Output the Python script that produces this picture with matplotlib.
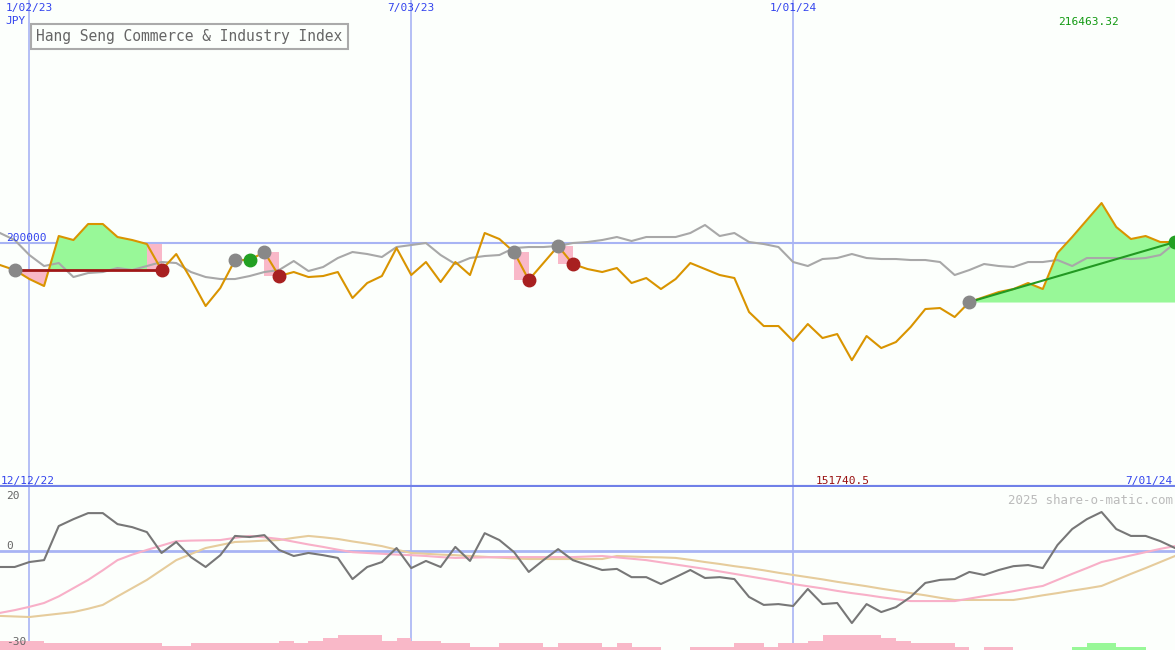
import matplotlib
matplotlib.use("Agg")
import matplotlib.pyplot as plt
import numpy as np
import pandas as pd

dates = pd.date_range("2022-12-19", periods=81, freq="7D")
price = [190936,188876,185168,182284,202884,201236,207828,207828,202472,201236,
         199588,188876,195468,185168,174044,181460,192996,192996,196292,186404,
         188052,185992,186404,188052,177340,183520,186404,197940,186816,192172,
         183932,192172,186816,204120,201648,196292,184756,191760,198764,191348,
         189288,188052,189700,183520,185580,181048,185168,191760,189288,186816,
         185580,171572,165804,165804,159624,166628,160860,162508,151740,161684,
         156740,159212,165392,172808,173220,169512,175692,177752,179812,181048,
         183520,181048,195880,202472,209476,216463,206592,201648,202884,200412,200412]
avg = [204120,201236,195056,190524,191760,185992,187640,188052,189700,188876,
       190524,192172,191760,188052,185992,185168,185168,186404,188052,188876,
       192584,188464,190112,193820,196292,195468,194232,198352,199176,200000,
       195056,191348,193820,194644,195056,197940,198352,198352,198764,200000,
       200412,201236,202472,200824,202472,202472,202472,204120,207416,202884,
       204120,200412,199588,198352,192172,190524,193408,193820,195468,193820,
       193408,193408,192996,192996,192172,186816,188876,191348,190524,190112,
       192172,192172,192996,190524,193820,193820,193820,193408,193820,195056,200000]
mom = [-5.8,-5.8,-4,-3.3,9.1,11.6,13.8,13.8,9.8,8.7,
       6.9,-0.7,3.3,-2.2,-5.8,-1.5,5.5,5.1,5.8,0.4,
       -1.8,-0.7,-1.5,-2.5,-10.2,-5.8,-4,1.1,-6.2,-3.6,
       -5.8,1.5,-3.6,6.5,4,-0.4,-7.6,-3.3,0.7,-3.3,
       -5.1,-6.9,-6.5,-9.5,-9.5,-12,-9.5,-6.9,-9.8,-9.5,
       -10.2,-16.7,-19.6,-19.3,-20,-13.8,-19.3,-18.9,-26.2,-19.3,
       -22.2,-20.4,-16.7,-11.6,-10.5,-10.2,-7.6,-8.7,-6.9,-5.5,
       -5.1,-6.2,2.2,8,11.6,14.2,8,5.5,5.5,3.6,1.1]
sig_pink = [-22.5,-21.5,-20.3,-18.9,-16.5,-13.5,-10.5,-7,-3.3,-1.3,
            0.4,2,3.6,3.8,3.9,4,4.8,5.5,5,4.4,
            3.4,2.4,1.5,0.5,-0.4,-0.7,-1,-1.3,-1.5,-1.8,
            -2.2,-2.5,-2.4,-2.3,-2.2,-2.2,-2.2,-2.2,-2.2,-2.2,
            -2,-1.8,-2.3,-2.8,-3.3,-4.1,-4.9,-5.7,-6.5,-7.4,
            -8.3,-9.2,-10.1,-11,-12,-12.8,-13.6,-14.5,-15.3,-16,
            -16.8,-17.5,-18.2,-18.2,-18.2,-18.2,-17.3,-16.4,-15.5,-14.6,
            -13.6,-12.7,-10.5,-8.3,-6.2,-4,-2.8,-1.6,-0.4,0.8,1.8]
sig_tan = [-23.6,-23.8,-24,-23.4,-22.8,-22.2,-21,-19.6,-16.5,-13.5,
           -10.5,-6.9,-3.3,-1.1,1.1,2.2,3.3,3.5,3.8,4,
           4.8,5.5,5,4.4,3.5,2.7,1.8,0.5,-0.7,-1,
           -1.3,-1.5,-1.8,-2.1,-2.4,-2.7,-2.9,-2.9,-2.9,-2.9,
           -2.9,-2.9,-1.8,-2,-2.2,-2.3,-2.5,-3.2,-4,-4.7,
           -5.5,-6.2,-7,-7.9,-8.7,-9.5,-10.3,-11.2,-12,-12.8,
           -13.7,-14.5,-15.3,-16.1,-17,-17.8,-17.8,-17.8,-17.8,-17.8,
           -17,-16.1,-15.3,-14.4,-13.6,-12.7,-10.5,-8.3,-6.2,-4,-1.8]
bars = [-3.3,-3.3,-3.3,-2.5,-2.5,-2.5,-2.5,-2.5,-2.5,-2.5,
        -2.5,-1.5,-1.5,-2.5,-2.5,-2.5,-2.5,-2.5,-2.5,-3.3,
        -2.5,-3.3,-4.4,-5.5,-5.5,-5.5,-3.3,-4.4,-3.3,-3.3,
        -2.5,-2.5,-1.1,-1.1,-2.5,-2.5,-2.5,-1.1,-2.5,-2.5,
        -2.5,-1.1,-2.5,-1.1,-1.1,0,0,-1.1,-1.1,-1.1,
        -2.5,-2.5,-1.1,-2.5,-2.5,-3.3,-5.5,-5.5,-5.5,-5.5,
        -4.4,-3.3,-2.5,-2.5,-2.5,-1.1,0,-1.1,-1.1,0,
        0,0,0,1.1,2.5,2.5,1.1,1.1,0,0,0]
grey_pts = [1, 16, 18, 35, 38, 66]
green_pts = [17, 80]
red_pts = [11, 19, 36, 39]
vlines = ["2023-01-02", "2023-07-03", "2024-01-01"]
vlabels = ["1/02/23", "7/03/23", "1/01/24"]

price = np.array(price, float)
BG = "#fcfffc"
BLUE = "#a8b4f4"
MONO = "DejaVu Sans Mono"

fig = plt.figure(figsize=(11.75, 6.5), dpi=100, facecolor=BG)
ax = fig.add_axes([0, 163/650, 1, 487/650], facecolor=BG)
bx = fig.add_axes([0, 0, 1, 163/650], facecolor=BG)
x0, x1 = pd.Timestamp("2022-12-19"), pd.Timestamp("2024-07-01")
for a in (ax, bx):
    a.set_xlim(x0, x1)
    a.set_xticks([]); a.set_yticks([])
    for s in a.spines.values():
        s.set_visible(False)
    for v in vlines:
        a.axvline(pd.Timestamp(v), color=BLUE, lw=1.2, zorder=1)
ax.set_ylim(99500, 300100)
bx.set_ylim(-36, 23.3)
ax.axhline(200000, color=BLUE, lw=1.5, zorder=1)
bx.axhline(0, color=BLUE, lw=2, zorder=1)
ax.axhline(99500, color="#7080e8", lw=3, zorder=5)

# fills
L1 = price[1]
xs = dates[1:12]; ps = price[1:12]
ax.fill_between(xs, L1, ps, where=ps >= L1, interpolate=True, color="#98f898", lw=0, zorder=2)
ax.fill_between(xs, L1, ps, where=ps <= L1, interpolate=True, color="#f9b8c8", lw=0, zorder=2)
ax.fill_between([dates[10], dates[11]], [price[10]]*2, [L1]*2, color="#f9b8c8", lw=0, zorder=2)
for a_, b_ in [(18, 19), (35, 36), (38, 39)]:
    ax.fill_between([dates[a_], dates[b_]], [price[a_]]*2, [price[b_]]*2, color="#f9b8c8", lw=0, zorder=2)
L2 = price[66]
ax.fill_between(dates[66:], L2, price[66:], where=price[66:] >= L2, interpolate=True, color="#98f898", lw=0, zorder=2)

ax.plot(dates, avg, color="#a8a8a8", lw=1.5, zorder=3)
ax.plot(dates, price, color="#d99400", lw=1.5, zorder=4)
ax.plot([dates[1], dates[11]], [L1, L1], color="#a01818", lw=2, zorder=5)
ax.plot([dates[66], dates[80]], [price[66], price[80]], color="#229922", lw=1.5, zorder=5)
ax.plot(dates[grey_pts], price[grey_pts], "o", color="#888888", ms=9, zorder=6)
ax.plot(dates[green_pts], price[green_pts], "o", color="#22a022", ms=9, zorder=6)
ax.plot(dates[red_pts], price[red_pts], "o", color="#a82020", ms=9, zorder=6)

# texts top
fs = 8
for v, lab in zip(vlines, vlabels):
    ax.text(pd.Timestamp(v), 0.994, lab, transform=ax.get_xaxis_transform(), color="#3344ee",
            fontsize=fs, family=MONO, ha="center", va="top")
ax.text(0.005, 0.968, "JPY", transform=ax.transAxes, color="#3344ee", fontsize=fs, family=MONO, va="top")
ax.text(0.952, 0.965, "216463.32", transform=ax.transAxes, color="#119911", fontsize=fs, family=MONO, ha="right", va="top")
ax.text(0.005, 200000, "200000", transform=ax.get_yaxis_transform(), color="#3344ee", fontsize=fs, family=MONO, va="bottom")
ax.text(0.001, 0.003, "12/12/22", transform=ax.transAxes, color="#3344ee", fontsize=fs, family=MONO, va="bottom")
ax.text(0.998, 0.003, "7/01/24", transform=ax.transAxes, color="#3344ee", fontsize=fs, family=MONO, va="bottom", ha="right")
ax.text(0.717, 0.003, "151740.5", transform=ax.transAxes, color="#991111", fontsize=fs, family=MONO, va="bottom", ha="center")
ax.text(0.031, 0.925, "Hang Seng Commerce & Industry Index", transform=ax.transAxes, color="#666666",
        fontsize=10.5, family=MONO, va="center",
        bbox=dict(boxstyle="square,pad=0.35", fc=BG, ec="#aaaaaa", lw=1.5))

# bottom panel
bcol = ["#98f898" if b > 0 else "#f9b8c8" for b in bars]
width = dates[1] - dates[0]
bx.bar(dates, [abs(b) for b in bars], bottom=-36, width=width, align="edge", color=bcol, lw=0, zorder=2)
bx.plot(dates, sig_tan, color="#e6cc9c", lw=1.5, zorder=3)
bx.plot(dates, sig_pink, color="#f8b0c8", lw=1.5, zorder=3)
bx.plot(dates, mom, color="#777777", lw=1.5, zorder=4)
bx.text(0.005, 20, "20", transform=bx.get_yaxis_transform(), color="#666666", fontsize=fs, family=MONO, va="center")
bx.text(0.005, 0, "0", transform=bx.get_yaxis_transform(), color="#666666", fontsize=fs, family=MONO, va="bottom")
bx.text(0.005, -33, "-30", transform=bx.get_yaxis_transform(), color="#666666", fontsize=fs, family=MONO, va="center", zorder=5)
bx.text(0.998, 0.955, "2025 share-o-matic.com", transform=bx.transAxes, color="#bbbbbb",
        fontsize=9, family=MONO, ha="right", va="top")

fig.savefig("out.png", dpi=100, facecolor=BG)
